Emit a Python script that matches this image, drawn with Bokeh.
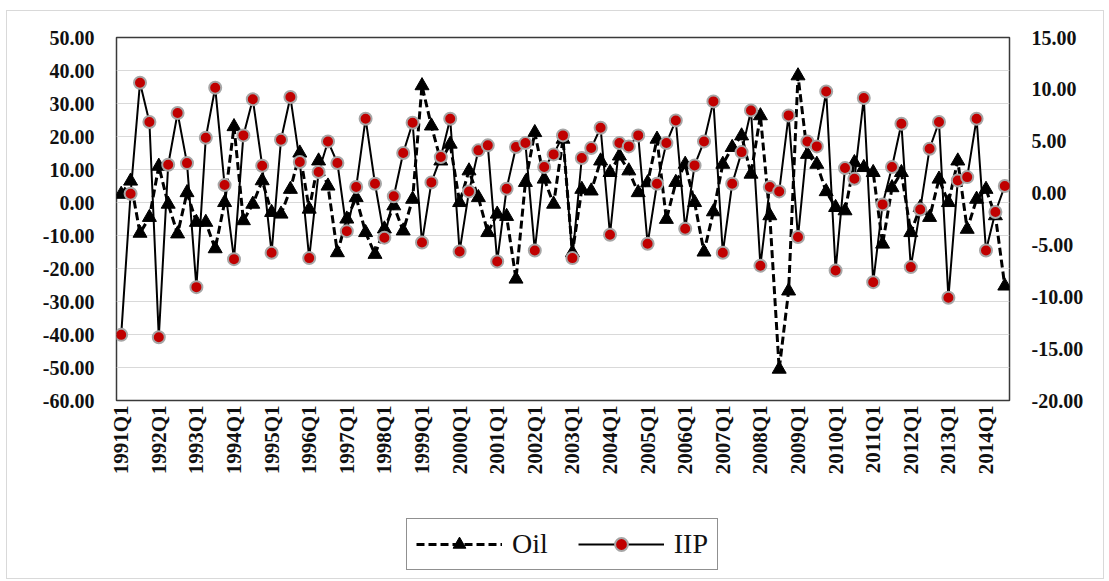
from bokeh.plotting import figure
from bokeh.layouts import column
from bokeh.models import (Range1d, LinearAxis, FixedTicker, NumeralTickFormatter,
                          Legend, LegendItem)
from bokeh.embed import file_html
from bokeh.resources import INLINE
import math

# Quarterly growth, 1991Q1 .. 2014Q3
oil = [2.5, 6.5, -9.3, -4.5, 11.0, -0.5, -9.5, 3.0, -6.0, -6.0, -14.0, 0.0,
       23.0, -5.5, -0.5, 6.6, -3.0, -3.5, 4.0, 15.0, -2.0, 12.6, 5.0, -15.2,
       -5.0, 1.5, -9.1, -15.7, -8.0, -1.0, -8.6, 1.0, 35.4, 23.2, 12.6, 17.7,
       0.0, 9.6, 1.5, -9.1, -3.5, -4.2, -23.2, 6.1, 21.2, 7.1, -0.5, 19.2,
       -15.2, 4.0, 3.5, 12.6, 9.1, 14.1, 9.6, 3.0, 6.0, 19.2, -5.1, 6.1,
       11.6, 0.0, -15.0, -2.8, 11.6, 16.7, 20.2, 8.6, 26.3, -4.0, -50.5, -26.8,
       38.4, 14.6, 11.6, 3.3, -1.5, -2.5, 12.1, 10.6, 9.1, -12.6, 4.5, 9.1,
       -9.1, -1.5, -4.5, 7.1, 0.0, 12.6, -8.1, 1.0, 4.0, -4.0, -25.3]

iip = [-13.67, -0.06, 10.64, 6.85, -13.90, 2.73, 7.72, 2.89, -9.07, 5.34, 10.16, 0.77,
       -6.37, 5.56, 9.04, 2.64, -5.76, 5.14, 9.26, 3.00, -6.27, 2.03, 4.98, 2.90,
       -3.67, 0.58, 7.17, 0.90, -4.30, -0.30, 3.86, 6.78, -4.76, 1.03, 3.47, 7.17,
       -5.63, 0.16, 4.12, 4.60, -6.59, 0.42, 4.44, 4.82, -5.53, 2.51, 3.73, 5.56,
       -6.27, 3.38, 4.34, 6.30, -4.02, 4.82, 4.50, 5.56, -4.89, 0.90, 4.82, 7.00,
       -3.44, 2.67, 4.98, 8.84, -5.76, 0.90, 3.95, 7.97, -7.00, 0.58, 0.16, 7.49,
       -4.24, 4.98, 4.50, 9.80, -7.46, 2.41, 1.38, 9.16, -8.59, -1.09, 2.51, 6.69,
       -7.14, -1.58, 4.28, 6.85, -10.10, 1.22, 1.54, 7.17, -5.53, -1.83, 0.68]

tick_labels = ["1991Q1", "1992Q1", "1993Q1", "1994Q1", "1995Q1", "1996Q1",
               "1997Q1", "1998Q1", "1999Q1", "2000Q1", "2001Q1", "2002Q1",
               "2003Q1", "2004Q1", "2005Q1", "2006Q1", "2007Q1", "2008Q1",
               "2009Q1", "2010Q1", "2011Q1", "2012Q1", "2013Q1", "2014Q1"]
left_ticks = [-60, -50, -40, -30, -20, -10, 0, 10, 20, 30, 40, 50]
right_ticks = [-20, -15, -10, -5, 0, 5, 10, 15]

x = list(range(len(oil)))
tick_pos = [4 * k for k in range(len(tick_labels))]

FONT = "Liberation Serif"
W = 1096

OIL_STYLE = dict(line_color="black", line_width=3, line_dash="8 4")
OIL_MARK = dict(marker="triangle", size=14, fill_color="black", line_color="black")
IIP_STYLE = dict(line_color="black", line_width=2)
IIP_MARK = dict(marker="circle", size=12, fill_color="#c00000",
                line_color="#a6a6a6", line_width=2)

p = figure(width=W, height=477, output_backend="svg", toolbar_location=None,
           x_range=Range1d(-0.5, len(oil) - 0.5), y_range=Range1d(-60, 50),
           min_border_left=109, min_border_right=94, min_border_top=26,
           min_border_bottom=88)
p.background_fill_color = "white"
p.border_fill_color = "white"
p.outline_line_color = "#3a3a3a"
p.outline_line_width = 1.5
p.extra_y_ranges = {"iip": Range1d(-20, 15)}

# axes
p.xaxis.ticker = FixedTicker(ticks=tick_pos)
p.xaxis.major_label_overrides = {t: l for t, l in zip(tick_pos, tick_labels)}
p.xaxis.major_label_orientation = math.pi / 2
p.xaxis.major_label_standoff = 5
p.yaxis.ticker = FixedTicker(ticks=left_ticks)
p.yaxis.formatter = NumeralTickFormatter(format="0.00")
p.yaxis.major_label_standoff = 22

right = LinearAxis(y_range_name="iip", ticker=FixedTicker(ticks=right_ticks),
                   formatter=NumeralTickFormatter(format="0.00"))
right.major_label_standoff = 22
p.add_layout(right, "right")

for ax in [p.xaxis[0], p.yaxis[0], right]:
    ax.axis_line_color = None
    ax.major_tick_line_color = None
    ax.minor_tick_line_color = None
    ax.major_tick_out = 0
    ax.major_tick_in = 0
    ax.major_label_text_font = FONT
    ax.major_label_text_font_style = "bold"
    ax.major_label_text_color = "#111111"
    ax.major_label_text_font_size = "20px"
p.xaxis.major_label_text_font_size = "21px"

p.xgrid.visible = False
p.ygrid.ticker = FixedTicker(ticks=left_ticks)
p.ygrid.grid_line_color = "#d9d9d9"
p.ygrid.grid_line_width = 1

# series
p.line(x, oil, **OIL_STYLE)
p.scatter(x, oil, **OIL_MARK)
p.line(x, iip, y_range_name="iip", **IIP_STYLE)
p.scatter(x, iip, y_range_name="iip", **IIP_MARK)

# legend strip under the chart (its renderers are hidden; only the key shows)
lg = figure(width=W, height=90, output_backend="svg", toolbar_location=None,
            x_range=Range1d(0, 1), y_range=Range1d(0, 1),
            x_axis_location=None, y_axis_location=None,
            min_border_left=0, min_border_right=0, min_border_top=0,
            min_border_bottom=0)
lg.outline_line_color = None
lg.grid.visible = False
lg.background_fill_color = "white"
lg.border_fill_color = "white"
l_oil = lg.line(x, oil, visible=False, **OIL_STYLE)
m_oil = lg.scatter(x, oil, visible=False, **OIL_MARK)
l_iip = lg.line(x, iip, visible=False, **IIP_STYLE)
m_iip = lg.scatter(x, iip, visible=False, **IIP_MARK)

legend = Legend(items=[LegendItem(label="Oil", renderers=[l_oil, m_oil]),
                       LegendItem(label="IIP", renderers=[l_iip, m_iip])],
                location=(290, 8), orientation="horizontal")
legend.label_text_font = FONT
legend.label_text_font_size = "28px"
legend.label_text_color = "#111111"
legend.glyph_width = 86
legend.glyph_height = 32
legend.label_standoff = 10
legend.spacing = 30
legend.padding = 9
legend.margin = 0
legend.border_line_color = "#222222"
legend.border_line_width = 1.5
legend.background_fill_color = "white"
legend.background_fill_alpha = 1
lg.add_layout(legend)

layout = column(p, lg)
layout.styles = {"margin-left": "6px", "margin-top": "10px",
                 "border": "1px solid #d9d9d9"}

open("out.html", "w").write(file_html(layout, INLINE))
